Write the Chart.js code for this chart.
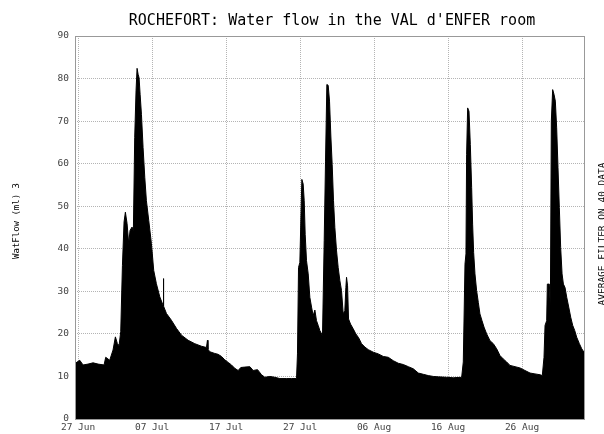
<!DOCTYPE html>
<html lang="en">
<head>
  <meta charset="UTF-8">
  <title>ROCHEFORT water flow</title>
  <script src="https://cdn.jsdelivr.net/npm/chart.js"></script>
  <style>
    body { margin: 0; background: #fff; }
    canvas { display: block; }
  </style>
</head>
<body>

<canvas id="flowChart" width="604" height="434"></canvas>

<script>
  // days after 27 Jun (0 = 27 Jun) and flow values
  const flowDays = [
    -0.46, 0.22, 0.67, 1.34, 2.02, 2.7, 3.51, 3.73, 4.27, 4.72, 5.04, 5.31, 5.54, 5.76,
    5.99, 6.21, 6.39, 6.62, 6.84, 7.02, 7.29, 7.47, 7.65, 7.83, 7.97, 8.11, 8.24, 8.38,
    8.56, 8.78, 9.01, 9.23, 9.55, 9.91, 10.22, 10.58, 11.04, 11.49, 11.53, 11.57, 11.94,
    12.61, 13.29, 13.97, 14.87, 15.77, 16.67, 17.35, 17.48, 17.55, 17.8, 18.48, 18.92,
    19.38, 19.83, 20.28, 20.73, 21.18, 21.63, 21.99, 22.53, 23.21, 23.66, 24.25, 24.79,
    25.24, 25.91, 26.59, 27.27, 28.17, 28.84, 29.52, 29.65, 29.79, 29.97, 30.11, 30.24,
    30.42, 30.56, 30.69, 30.87, 31.1, 31.32, 31.55, 31.77, 32.0, 32.22, 32.45, 32.67,
    33.03, 33.26, 33.44, 33.62, 33.8, 33.98, 34.16, 34.34, 34.52, 34.7, 34.93, 35.15,
    35.38, 35.6, 35.83, 36.05, 36.19, 36.28, 36.42, 36.55, 36.82, 37.18, 37.54, 37.91,
    38.31, 38.76, 39.22, 39.89, 40.57, 41.24, 41.92, 42.6, 43.27, 43.95, 44.63, 45.3,
    45.98, 46.66, 47.33, 48.01, 48.69, 49.8, 50.71, 51.84, 52.06, 52.29, 52.42, 52.51,
    52.65, 52.83, 53.01, 53.19, 53.32, 53.46, 53.64, 53.86, 54.09, 54.31, 54.59, 54.86,
    55.22, 55.67, 56.12, 56.57, 57.02, 57.47, 57.92, 58.37, 59.05, 59.72, 60.4, 61.08,
    61.75, 62.43, 62.74, 62.97, 63.11, 63.33, 63.42, 63.69, 63.83, 63.96, 64.14, 64.32,
    64.5, 64.68, 64.86, 65.04, 65.22, 65.41, 65.59, 65.81, 66.04, 66.31, 66.58, 66.85,
    67.12, 67.39, 67.75, 68.07, 68.38, 68.51
  ];
  const flowValues = [
    13.0, 13.8, 12.7, 12.9, 13.2, 12.9, 12.7, 14.5, 13.8, 16.2, 19.3, 17.7, 17.3, 20.5,
    36.1, 46.3, 48.6, 45.9, 41.2, 44.3, 45.1, 44.3, 66.2, 77.1, 82.4, 81.0, 80.2, 76.3,
    71.6, 63.8, 56.8, 51.3, 46.6, 41.2, 34.9, 31.8, 28.7, 26.7, 33.0, 26.5, 24.8,
    23.2, 21.3, 19.7, 18.5, 17.7, 17.1, 16.8, 18.5, 16.4, 15.8, 15.4, 15.2,
    14.7, 13.9, 13.3, 12.7, 11.9, 11.4, 12.1, 12.2, 12.3, 11.4, 11.6, 10.4,
    9.8, 10.0, 9.8, 9.5, 9.5, 9.5, 9.5, 15.3, 35.6, 36.8, 47.0, 56.3,
    55.2, 51.3, 43.4, 37.2, 34.1, 28.6, 26.3, 24.3, 25.6, 23.1, 22.0, 20.8,
    19.6, 41.9, 60.6, 78.6, 78.4, 74.7, 66.5, 59.8, 51.3, 45.0, 39.5, 35.6,
    32.5, 30.2, 24.7, 25.5, 30.9, 33.3, 31.3, 23.5, 22.3, 21.2, 20.0, 19.1,
    17.7, 16.9, 16.3, 15.7, 15.3, 14.7, 14.5, 13.7, 13.1, 12.8, 12.3, 11.8,
    10.8, 10.5, 10.2, 10.0, 9.9, 9.8, 9.7, 9.8, 13.4, 36.4, 38.8, 62.2,
    73.1, 72.3, 64.5, 54.4, 45.8, 39.1, 34.1, 30.2, 27.4, 24.7, 23.1, 21.6,
    20.0, 18.4, 17.7, 16.5, 14.9, 14.1, 13.4, 12.6, 12.3, 12.0, 11.4, 10.8,
    10.6, 10.4, 10.2, 14.5, 22.0, 23.1, 31.7, 31.7, 26.3, 70.0, 77.4, 76.3,
    74.7, 68.4, 59.1, 49.7, 40.3, 34.1, 31.7, 30.9, 28.6, 26.3, 23.9, 22.0,
    20.8, 19.2, 17.7, 16.5, 15.7, 15.6
  ];
  const xTickDays = [0, 10, 20, 30, 40, 50, 60];
  const xTickLabels = ['27 Jun', '07 Jul', '17 Jul', '27 Jul', '06 Aug', '16 Aug', '26 Aug'];

  const titleText = "ROCHEFORT: Water flow in the VAL d'ENFER room";
  const yAxisText = 'WatFlow (ml) 3';
  const noteText = 'AVERAGE FILTER ON 40 DATA';

  const mono = 'DejaVu Sans Mono';

  // frame around the plot and the loose texts
  const decorations = {
    id: 'decorations',
    afterDatasetsDraw(chart) {
      const { ctx, chartArea: a } = chart;
      ctx.save();
      ctx.strokeStyle = '#999';
      ctx.lineWidth = 1;
      ctx.strokeRect(a.left + 0.5, a.top + 0.5, a.right - a.left - 1, a.bottom - a.top);
      ctx.restore();
    },
    afterDraw(chart) {
      const { ctx, chartArea: a } = chart;
      ctx.save();
      ctx.fillStyle = '#000';
      ctx.textAlign = 'center';
      ctx.textBaseline = 'middle';
      ctx.font = '15px "' + mono + '"';
      ctx.fillText(titleText, (a.left + a.right) / 2 + 2, 21);

      ctx.font = '9px "' + mono + '"';
      ctx.translate(17, 221);
      ctx.rotate(-Math.PI / 2);
      ctx.fillText(yAxisText, 0, 0);
      ctx.restore();

      ctx.save();
      ctx.fillStyle = '#000';
      ctx.textAlign = 'center';
      ctx.textBaseline = 'middle';
      ctx.font = '9.5px "' + mono + '"';
      ctx.translate(603, 234);
      ctx.rotate(-Math.PI / 2);
      ctx.fillText(noteText, 0, 0);
      ctx.restore();
    }
  };

  const ctx = document.getElementById('flowChart').getContext('2d');
  new Chart(ctx, {
    type: 'line',
    data: {
      datasets: [{
        data: flowDays.map((d, i) => ({ x: d, y: flowValues[i] })),
        borderColor: '#000',
        backgroundColor: '#000',
        borderWidth: 1,
        pointRadius: 0,
        tension: 0,
        fill: 'origin'
      }]
    },
    options: {
      responsive: false,
      devicePixelRatio: 1,
      animation: false,
      layout: { padding: { top: 36, right: 19, left: 0, bottom: 0 } },
      plugins: {
        legend: { display: false },
        title: { display: false },
        tooltip: { enabled: false }
      },
      scales: {
        x: {
          type: 'linear',
          min: -0.42,
          max: 68.51,
          afterBuildTicks(scale) {
            scale.ticks = xTickDays.map(v => ({ value: v }));
          },
          afterFit(scale) { scale.height = 15; },
          ticks: {
            autoSkip: false,
            maxRotation: 0,
            padding: 3,
            color: '#444',
            font: { family: mono, size: 9.5 },
            callback: (v, i) => xTickLabels[i]
          },
          grid: { color: '#b4b4b4', drawTicks: false },
          border: { display: false, dash: [1, 1] }
        },
        y: {
          min: 0,
          max: 90,
          afterFit(scale) { scale.width = 75; },
          ticks: {
            stepSize: 10,
            padding: 6,
            color: '#444',
            font: { family: mono, size: 9.5 }
          },
          grid: { color: '#b4b4b4', drawTicks: false },
          border: { display: false, dash: [1, 1] }
        }
      }
    },
    plugins: [decorations]
  });
</script>

</body>
</html>
